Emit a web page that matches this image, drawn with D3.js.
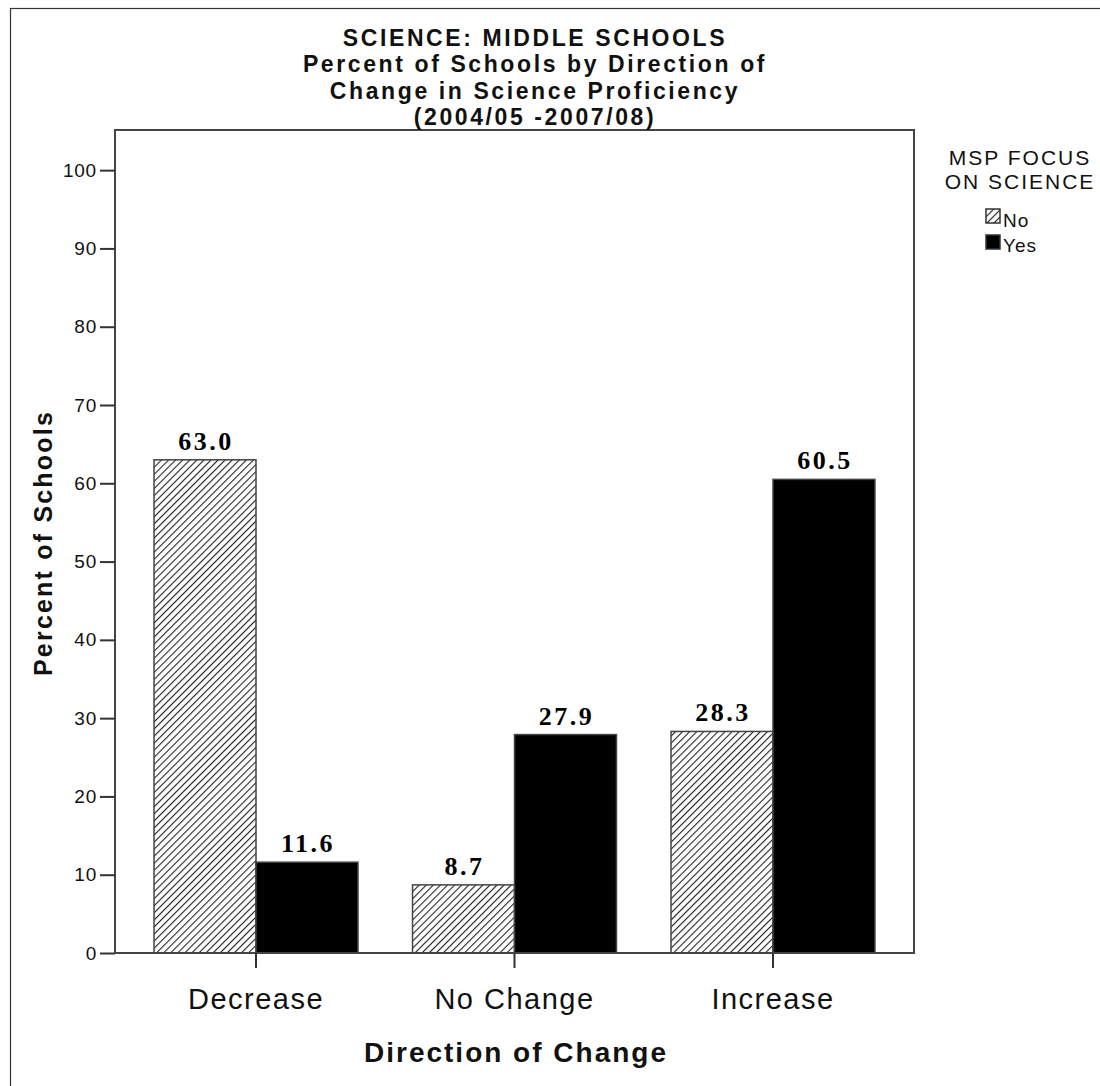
<!DOCTYPE html>
<html><head><meta charset="utf-8">
<script src="https://cdn.jsdelivr.net/npm/d3@7"></script>
<style>body{margin:0;background:#fff}</style>
</head><body>
<script>
const categories = ["Decrease", "No Change", "Increase"];
const seriesNames = ["No", "Yes"];
const noValues = [63.0, 8.7, 28.3];
const yesValues = [11.6, 27.9, 60.5];
const yTicks = [0, 10, 20, 30, 40, 50, 60, 70, 80, 90, 100];
const titleLines = ["SCIENCE: MIDDLE SCHOOLS", "Percent of Schools by Direction of", "Change in Science Proficiency", "(2004/05 -2007/08)"];

const W = 1100, H = 1086;
const SANS = "Liberation Sans, Arial, sans-serif";
const svg = d3.select("body").append("svg").attr("width", W).attr("height", H);
const defs = svg.append("defs");
const pat = defs.append("pattern").attr("id", "hatch").attr("patternUnits", "userSpaceOnUse")
  .attr("width", 5).attr("height", 5).attr("patternTransform", "rotate(45)");
pat.append("rect").attr("width", 5).attr("height", 5).attr("fill", "#fff");
pat.append("line").attr("x1", 0).attr("y1", 0).attr("x2", 0).attr("y2", 5)
  .attr("stroke", "#222").attr("stroke-width", 2.2);

// outer frame
svg.append("rect").attr("x", 10.5).attr("y", 8.5).attr("width", 1200).attr("height", 1200)
  .attr("fill", "none").attr("stroke", "#333").attr("stroke-width", 1.2);

const pLeft = 115, pRight = 914, pTop = 130, pBottom = 953;
const x = d3.scaleBand().domain(categories).range([pLeft, pRight]).paddingInner(0.211).paddingOuter(0.151);
const xs = d3.scaleBand().domain(seriesNames).range([0, x.bandwidth()]);
const y = d3.scaleLinear().domain([0, 105]).range([pBottom, pTop + 1]);

const data = categories.map((c, i) => ({cat: c, vals: [{s: "No", v: noValues[i]}, {s: "Yes", v: yesValues[i]}]}));

const g = svg.append("g");
g.selectAll("g.cat").data(data).join("g").attr("class", "cat")
  .attr("transform", d => `translate(${x(d.cat)},0)`)
  .each(function(d) {
    const sel = d3.select(this);
    sel.selectAll("rect").data(d.vals).join("rect")
      .attr("x", e => xs(e.s)).attr("width", xs.bandwidth())
      .attr("y", e => y(e.v)).attr("height", e => y(0) - y(e.v))
      .attr("fill", e => e.s === "No" ? "url(#hatch)" : "#000")
      .attr("stroke", "#444").attr("stroke-width", 1.5);
    sel.selectAll("text").data(d.vals).join("text")
      .attr("x", e => xs(e.s) + xs.bandwidth() / 2 + 1).attr("y", e => y(e.v) - 10)
      .attr("text-anchor", "middle")
      .attr("font-family", "Liberation Serif, Times New Roman, serif").attr("font-weight", "bold")
      .attr("font-size", 26).attr("letter-spacing", 2.5).text(e => e.v.toFixed(1));
  });

// plot frame
svg.append("rect").attr("x", pLeft).attr("y", pTop).attr("width", pRight - pLeft).attr("height", pBottom - pTop)
  .attr("fill", "none").attr("stroke", "#444").attr("stroke-width", 2);

// y axis
const yAxis = svg.append("g").attr("transform", `translate(${pLeft},0)`)
  .call(d3.axisLeft(y).tickValues(yTicks).tickSize(15).tickPadding(3));
yAxis.select(".domain").remove();
yAxis.selectAll("line").attr("stroke", "#333").attr("stroke-width", 2);
yAxis.selectAll("text").attr("font-family", SANS).attr("font-size", 19).attr("letter-spacing", 0.8).attr("fill", "#111");

// x axis
const xAxis = svg.append("g").attr("transform", `translate(0,${pBottom})`)
  .call(d3.axisBottom(x).tickSize(15).tickPadding(20));
xAxis.select(".domain").remove();
xAxis.selectAll("line").attr("stroke", "#333").attr("stroke-width", 2);
xAxis.selectAll("text").attr("font-family", SANS).attr("font-size", 29).attr("letter-spacing", 1.5).attr("fill", "#111");

// titles
const t = svg.append("text").attr("text-anchor", "middle")
  .attr("font-family", SANS).attr("font-weight", "bold").attr("font-size", 23).attr("letter-spacing", 2.6).attr("fill", "#111");
titleLines.forEach((l, i) => t.append("tspan").attr("x", 535).attr("y", 46 + i * 26.3).text(l));

svg.append("text").attr("transform", "translate(52,543) rotate(-90)").attr("text-anchor", "middle")
  .attr("font-family", SANS).attr("font-weight", "bold").attr("font-size", 25).attr("letter-spacing", 2.2)
  .attr("fill", "#111").text("Percent of Schools");

svg.append("text").attr("x", 516).attr("y", 1062).attr("text-anchor", "middle")
  .attr("font-family", SANS).attr("font-weight", "bold").attr("font-size", 28).attr("letter-spacing", 2)
  .attr("fill", "#111").text("Direction of Change");

// legend
const lg = svg.append("g").attr("font-family", SANS).attr("fill", "#111");
lg.append("text").attr("x", 1020).attr("y", 165).attr("text-anchor", "middle").attr("font-size", 21).attr("letter-spacing", 2).text("MSP FOCUS");
lg.append("text").attr("x", 1020).attr("y", 189).attr("text-anchor", "middle").attr("font-size", 21).attr("letter-spacing", 2).text("ON SCIENCE");
seriesNames.forEach((s, i) => {
  lg.append("rect").attr("x", 986).attr("y", 209 + i * 26).attr("width", 14).attr("height", 14)
    .attr("fill", s === "No" ? "url(#hatch)" : "#000").attr("stroke", "#333").attr("stroke-width", 1.5);
  lg.append("text").attr("x", 1003).attr("y", 227 + i * 25).attr("font-size", 19).attr("letter-spacing", 1).text(s);
});
</script>
</body></html>
